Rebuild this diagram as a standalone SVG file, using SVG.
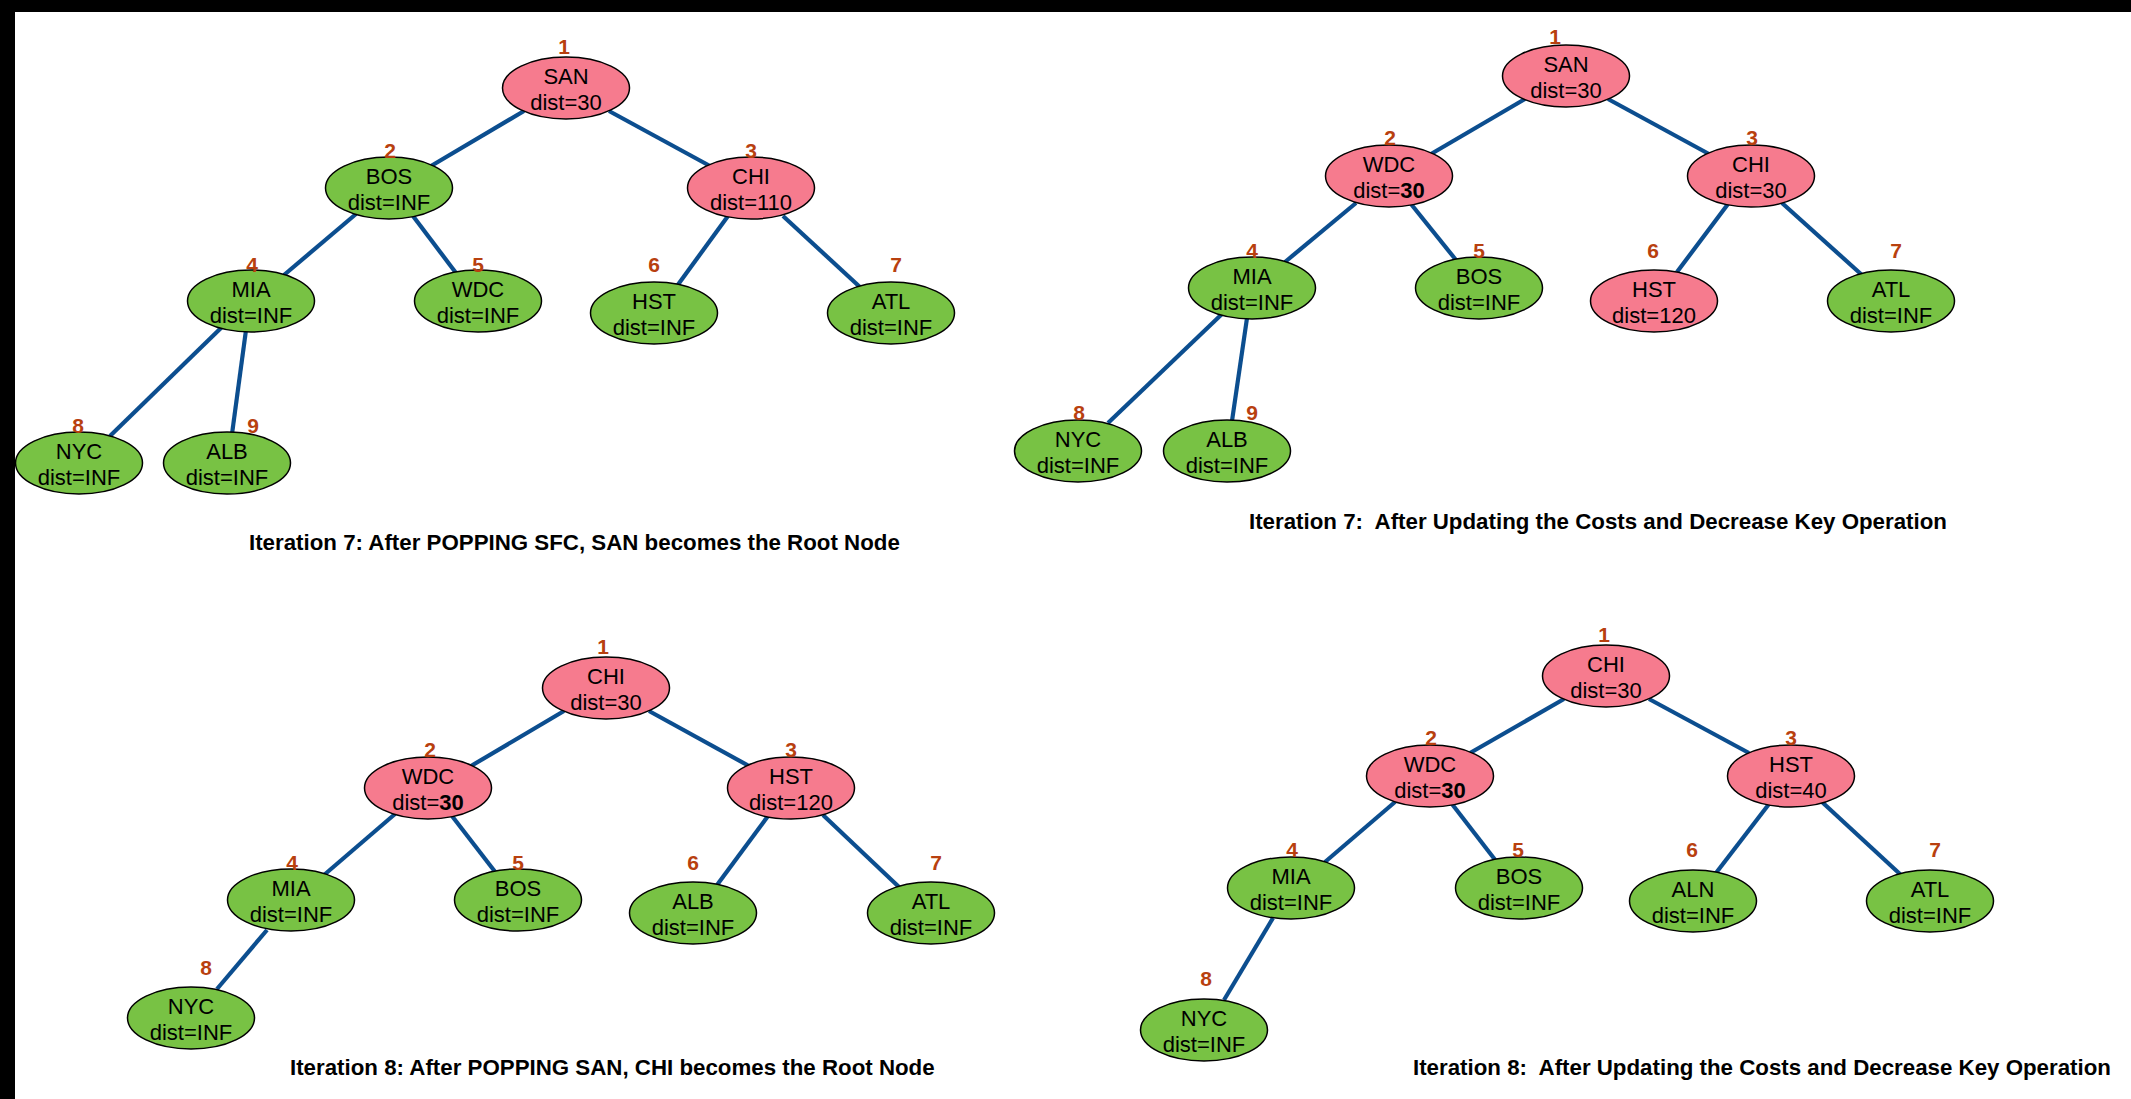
<svg xmlns="http://www.w3.org/2000/svg" width="2131" height="1099" viewBox="0 0 2131 1099">
<style>
.bg{fill:#fff}
.frame{fill:#000}
ellipse{stroke:#000;stroke-width:1.5}
.p{fill:#F67B8E}
.g{fill:#78C244}
.e line{stroke:#0C4E8F;stroke-width:4.2;stroke-linecap:butt}
.t{font-family:"Liberation Sans",Arial,sans-serif;font-size:22px;fill:#000;text-anchor:middle}
.n{font-family:"Liberation Sans",Arial,sans-serif;font-size:21px;font-weight:bold;fill:#B8400F;text-anchor:middle}
.title{font-family:"Liberation Sans",Arial,sans-serif;font-size:22.3px;font-weight:bold;fill:#000}
.b{font-weight:bold}
</style>
<rect class="bg" x="0" y="0" width="2131" height="1099"/>
<rect class="frame" x="0" y="0" width="2131" height="12"/>
<rect class="frame" x="0" y="0" width="15" height="1099"/>

<g id="connectors" class="e">
<!-- panel 1 -->
<line x1="524" y1="111" x2="431" y2="166"/>
<line x1="609" y1="111" x2="710" y2="166"/>
<line x1="356" y1="214" x2="284" y2="275"/>
<line x1="413" y1="216" x2="456" y2="273"/>
<line x1="728" y1="216" x2="677" y2="286"/>
<line x1="783" y1="216" x2="861" y2="288"/>
<line x1="222" y1="327" x2="110" y2="436"/>
<line x1="246" y1="330" x2="232" y2="434"/>
<!-- panel 2 -->
<line x1="1525" y1="99" x2="1431" y2="154"/>
<line x1="1608" y1="99" x2="1709" y2="154"/>
<line x1="1356" y1="203" x2="1285" y2="262"/>
<line x1="1411" y1="204" x2="1456" y2="260"/>
<line x1="1728" y1="204" x2="1677" y2="272"/>
<line x1="1782" y1="203" x2="1862" y2="275"/>
<line x1="1222" y1="314" x2="1108" y2="423"/>
<line x1="1247" y1="318" x2="1232" y2="421"/>
<!-- panel 3 -->
<line x1="564" y1="711" x2="471" y2="766"/>
<line x1="649" y1="711" x2="749" y2="766"/>
<line x1="395" y1="814" x2="324" y2="875"/>
<line x1="452" y1="816" x2="496" y2="873"/>
<line x1="768" y1="816" x2="717" y2="885"/>
<line x1="823" y1="815" x2="899" y2="887"/>
<line x1="267" y1="930" x2="217" y2="989"/>
<!-- panel 4 -->
<line x1="1564" y1="699" x2="1470" y2="753"/>
<line x1="1649" y1="699" x2="1749" y2="753"/>
<line x1="1395" y1="802" x2="1325" y2="862"/>
<line x1="1452" y1="804" x2="1496" y2="861"/>
<line x1="1769" y1="804" x2="1716" y2="873"/>
<line x1="1822" y1="802" x2="1901" y2="875"/>
<line x1="1273" y1="918" x2="1224" y2="1000"/>
</g>

<!-- Panel 1 -->
<g id="p1-san"><ellipse class="p" cx="566" cy="88" rx="63.5" ry="31"/><text class="t" x="566" y="84">SAN</text><text class="t" x="566" y="110">dist=30</text><text class="n" x="564" y="54">1</text></g>
<g id="p1-bos"><ellipse class="g" cx="389" cy="188" rx="63.5" ry="31"/><text class="t" x="389" y="184">BOS</text><text class="t" x="389" y="210">dist=INF</text><text class="n" x="390" y="158">2</text></g>
<g id="p1-chi"><ellipse class="p" cx="751" cy="188" rx="63.5" ry="31"/><text class="t" x="751" y="184">CHI</text><text class="t" x="751" y="210">dist=110</text><text class="n" x="751" y="158">3</text></g>
<g id="p1-mia"><ellipse class="g" cx="251" cy="301" rx="63.5" ry="31"/><text class="t" x="251" y="297">MIA</text><text class="t" x="251" y="323">dist=INF</text><text class="n" x="252" y="272">4</text></g>
<g id="p1-wdc"><ellipse class="g" cx="478" cy="301" rx="63.5" ry="31"/><text class="t" x="478" y="297">WDC</text><text class="t" x="478" y="323">dist=INF</text><text class="n" x="478" y="272">5</text></g>
<g id="p1-hst"><ellipse class="g" cx="654" cy="313" rx="63.5" ry="31"/><text class="t" x="654" y="309">HST</text><text class="t" x="654" y="335">dist=INF</text><text class="n" x="654" y="272">6</text></g>
<g id="p1-atl"><ellipse class="g" cx="891" cy="313" rx="63.5" ry="31"/><text class="t" x="891" y="309">ATL</text><text class="t" x="891" y="335">dist=INF</text><text class="n" x="896" y="272">7</text></g>
<g id="p1-nyc"><ellipse class="g" cx="79" cy="463" rx="63.5" ry="31"/><text class="t" x="79" y="459">NYC</text><text class="t" x="79" y="485">dist=INF</text><text class="n" x="78" y="433">8</text></g>
<g id="p1-alb"><ellipse class="g" cx="227" cy="463" rx="63.5" ry="31"/><text class="t" x="227" y="459">ALB</text><text class="t" x="227" y="485">dist=INF</text><text class="n" x="253" y="433">9</text></g>
<text class="title" x="249" y="550">Iteration 7: After POPPING SFC, SAN becomes the Root Node</text>

<!-- Panel 2 -->
<g id="p2-san"><ellipse class="p" cx="1566" cy="76" rx="63.5" ry="31"/><text class="t" x="1566" y="72">SAN</text><text class="t" x="1566" y="98">dist=30</text><text class="n" x="1555" y="44">1</text></g>
<g id="p2-wdc"><ellipse class="p" cx="1389" cy="176" rx="63.5" ry="31"/><text class="t" x="1389" y="172">WDC</text><text class="t" x="1389" y="198">dist=<tspan class="b">30</tspan></text><text class="n" x="1390" y="145">2</text></g>
<g id="p2-chi"><ellipse class="p" cx="1751" cy="176" rx="63.5" ry="31"/><text class="t" x="1751" y="172">CHI</text><text class="t" x="1751" y="198">dist=30</text><text class="n" x="1752" y="145">3</text></g>
<g id="p2-mia"><ellipse class="g" cx="1252" cy="288" rx="63.5" ry="31"/><text class="t" x="1252" y="284">MIA</text><text class="t" x="1252" y="310">dist=INF</text><text class="n" x="1252" y="258">4</text></g>
<g id="p2-bos"><ellipse class="g" cx="1479" cy="288" rx="63.5" ry="31"/><text class="t" x="1479" y="284">BOS</text><text class="t" x="1479" y="310">dist=INF</text><text class="n" x="1479" y="258">5</text></g>
<g id="p2-hst"><ellipse class="p" cx="1654" cy="301" rx="63.5" ry="31"/><text class="t" x="1654" y="297">HST</text><text class="t" x="1654" y="323">dist=120</text><text class="n" x="1653" y="258">6</text></g>
<g id="p2-atl"><ellipse class="g" cx="1891" cy="301" rx="63.5" ry="31"/><text class="t" x="1891" y="297">ATL</text><text class="t" x="1891" y="323">dist=INF</text><text class="n" x="1896" y="258">7</text></g>
<g id="p2-nyc"><ellipse class="g" cx="1078" cy="451" rx="63.5" ry="31"/><text class="t" x="1078" y="447">NYC</text><text class="t" x="1078" y="473">dist=INF</text><text class="n" x="1079" y="420">8</text></g>
<g id="p2-alb"><ellipse class="g" cx="1227" cy="451" rx="63.5" ry="31"/><text class="t" x="1227" y="447">ALB</text><text class="t" x="1227" y="473">dist=INF</text><text class="n" x="1252" y="420">9</text></g>
<text class="title" x="1249" y="529" xml:space="preserve">Iteration 7:  After Updating the Costs and Decrease Key Operation</text>

<!-- Panel 3 -->
<g id="p3-chi"><ellipse class="p" cx="606" cy="688" rx="63.5" ry="31"/><text class="t" x="606" y="684">CHI</text><text class="t" x="606" y="710">dist=30</text><text class="n" x="603" y="654">1</text></g>
<g id="p3-wdc"><ellipse class="p" cx="428" cy="788" rx="63.5" ry="31"/><text class="t" x="428" y="784">WDC</text><text class="t" x="428" y="810">dist=<tspan class="b">30</tspan></text><text class="n" x="430" y="757">2</text></g>
<g id="p3-hst"><ellipse class="p" cx="791" cy="788" rx="63.5" ry="31"/><text class="t" x="791" y="784">HST</text><text class="t" x="791" y="810">dist=120</text><text class="n" x="791" y="757">3</text></g>
<g id="p3-mia"><ellipse class="g" cx="291" cy="900" rx="63.5" ry="31"/><text class="t" x="291" y="896">MIA</text><text class="t" x="291" y="922">dist=INF</text><text class="n" x="292" y="870">4</text></g>
<g id="p3-bos"><ellipse class="g" cx="518" cy="900" rx="63.5" ry="31"/><text class="t" x="518" y="896">BOS</text><text class="t" x="518" y="922">dist=INF</text><text class="n" x="518" y="870">5</text></g>
<g id="p3-alb"><ellipse class="g" cx="693" cy="913" rx="63.5" ry="31"/><text class="t" x="693" y="909">ALB</text><text class="t" x="693" y="935">dist=INF</text><text class="n" x="693" y="870">6</text></g>
<g id="p3-atl"><ellipse class="g" cx="931" cy="913" rx="63.5" ry="31"/><text class="t" x="931" y="909">ATL</text><text class="t" x="931" y="935">dist=INF</text><text class="n" x="936" y="870">7</text></g>
<g id="p3-nyc"><ellipse class="g" cx="191" cy="1018" rx="63.5" ry="31"/><text class="t" x="191" y="1014">NYC</text><text class="t" x="191" y="1040">dist=INF</text><text class="n" x="206" y="975">8</text></g>
<text class="title" x="290" y="1075">Iteration 8: After POPPING SAN, CHI becomes the Root Node</text>

<!-- Panel 4 -->
<g id="p4-chi"><ellipse class="p" cx="1606" cy="676" rx="63.5" ry="31"/><text class="t" x="1606" y="672">CHI</text><text class="t" x="1606" y="698">dist=30</text><text class="n" x="1604" y="642">1</text></g>
<g id="p4-wdc"><ellipse class="p" cx="1430" cy="776" rx="63.5" ry="31"/><text class="t" x="1430" y="772">WDC</text><text class="t" x="1430" y="798">dist=<tspan class="b">30</tspan></text><text class="n" x="1431" y="745">2</text></g>
<g id="p4-hst"><ellipse class="p" cx="1791" cy="776" rx="63.5" ry="31"/><text class="t" x="1791" y="772">HST</text><text class="t" x="1791" y="798">dist=40</text><text class="n" x="1791" y="745">3</text></g>
<g id="p4-mia"><ellipse class="g" cx="1291" cy="888" rx="63.5" ry="31"/><text class="t" x="1291" y="884">MIA</text><text class="t" x="1291" y="910">dist=INF</text><text class="n" x="1292" y="857">4</text></g>
<g id="p4-bos"><ellipse class="g" cx="1519" cy="888" rx="63.5" ry="31"/><text class="t" x="1519" y="884">BOS</text><text class="t" x="1519" y="910">dist=INF</text><text class="n" x="1518" y="857">5</text></g>
<g id="p4-aln"><ellipse class="g" cx="1693" cy="901" rx="63.5" ry="31"/><text class="t" x="1693" y="897">ALN</text><text class="t" x="1693" y="923">dist=INF</text><text class="n" x="1692" y="857">6</text></g>
<g id="p4-atl"><ellipse class="g" cx="1930" cy="901" rx="63.5" ry="31"/><text class="t" x="1930" y="897">ATL</text><text class="t" x="1930" y="923">dist=INF</text><text class="n" x="1935" y="857">7</text></g>
<g id="p4-nyc"><ellipse class="g" cx="1204" cy="1030" rx="63.5" ry="31"/><text class="t" x="1204" y="1026">NYC</text><text class="t" x="1204" y="1052">dist=INF</text><text class="n" x="1206" y="986">8</text></g>
<text class="title" x="1413" y="1075" xml:space="preserve">Iteration 8:  After Updating the Costs and Decrease Key Operation</text>
</svg>
